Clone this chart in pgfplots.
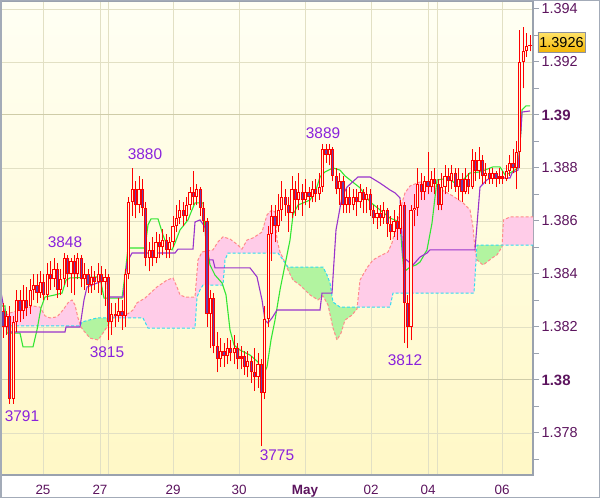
\documentclass[border=0pt]{standalone}
\usepackage{pgfplots}
\pgfplotsset{compat=1.18}
\usepgfplotslibrary{fillbetween}
\usepackage{pgfplotstable}
\usepackage{fontspec}
\setmainfont{Liberation Sans}

\definecolor{bgtop}{HTML}{FFFFF4}
\definecolor{bgbot}{HTML}{FFF8C6}
\definecolor{gridc}{HTML}{E2E0C4}
\definecolor{gridd}{HTML}{CFCCA8}
\definecolor{axisgray}{HTML}{9AA2AE}
\definecolor{framec}{HTML}{A3ABB8}
\definecolor{labelc}{HTML}{5C145E}
\definecolor{annotc}{HTML}{8A22DC}
\definecolor{pinkc}{HTML}{FFCCE8}
\definecolor{greenc}{HTML}{B2F4A0}
\definecolor{spanAc}{HTML}{FF8A8A}
\definecolor{spanBc}{HTML}{2EDCF2}
\definecolor{tenkanc}{HTML}{33E633}
\definecolor{kijunc}{HTML}{9933CC}
\definecolor{candlered}{HTML}{FF0000}
\definecolor{bearin}{HTML}{6A3DA8}
\definecolor{bullin}{HTML}{FFFBE0}
\definecolor{pricetop}{HTML}{FFE266}
\definecolor{pricebot}{HTML}{F2B400}
\definecolor{pricebord}{HTML}{8C90A0}

% candles: t = candle index, prices in pips (3826 = 1.3826)
\pgfplotstableread{
t o h l c
0 3826 3829 3816 3820
1 3820 3826 3817 3824
2 3824 3828 3791 3793
3 3793 3824 3791 3822
4 3822 3834 3818 3830
5 3830 3834 3822 3826
6 3826 3836 3823 3830
7 3830 3835 3824 3827
8 3828 3838 3825 3834
9 3834 3840 3830 3836
10 3836 3840 3829 3833
11 3833 3841 3831 3837
12 3837 3840 3830 3832
13 3832 3844 3830 3840
14 3840 3845 3834 3838
15 3838 3846 3835 3842
16 3842 3844 3831 3834
17 3834 3842 3832 3838
18 3838 3848 3836 3846
19 3846 3847 3835 3840
20 3840 3846 3833 3845
21 3845 3847 3832 3840
22 3840 3848 3838 3846
23 3846 3847 3835 3838
24 3838 3844 3834 3840
25 3840 3842 3833 3836
26 3836 3843 3833 3839
27 3839 3841 3834 3837
28 3837 3844 3833 3840
29 3840 3843 3832 3837
30 3837 3842 3828 3839
31 3839 3840 3815 3822
32 3822 3829 3817 3825
33 3825 3829 3820 3824
34 3824 3831 3822 3826
35 3826 3830 3819 3824
36 3824 3842 3820 3840
37 3840 3869 3838 3867
38 3867 3880 3862 3872
39 3872 3875 3861 3866
40 3866 3877 3863 3872
41 3872 3876 3862 3865
42 3865 3867 3843 3846
43 3846 3852 3841 3849
44 3849 3854 3843 3846
45 3846 3856 3844 3852
46 3852 3855 3846 3850
47 3850 3857 3847 3853
48 3853 3855 3846 3849
49 3849 3854 3846 3852
50 3852 3862 3850 3858
51 3858 3866 3856 3861
52 3861 3868 3859 3864
53 3864 3867 3858 3862
54 3862 3869 3860 3866
55 3866 3873 3864 3871
56 3871 3879 3866 3869
57 3869 3874 3866 3872
58 3872 3873 3862 3865
59 3865 3867 3856 3860
60 3860 3861 3820 3825
61 3825 3834 3812 3831
62 3831 3833 3810 3813
63 3813 3818 3803 3808
64 3808 3816 3805 3811
65 3811 3814 3805 3809
66 3809 3816 3806 3812
67 3812 3815 3807 3810
68 3810 3817 3806 3812
69 3812 3814 3804 3808
70 3808 3813 3804 3809
71 3809 3811 3802 3805
72 3805 3811 3801 3807
73 3807 3809 3799 3803
74 3803 3812 3796 3801
75 3801 3810 3797 3806
76 3806 3808 3775 3795
77 3795 3828 3793 3823
78 3823 3858 3820 3855
79 3855 3866 3845 3862
80 3862 3866 3852 3858
81 3858 3870 3856 3864
82 3864 3875 3860 3869
83 3869 3872 3862 3866
84 3866 3869 3856 3863
85 3863 3877 3861 3872
86 3872 3875 3862 3868
87 3868 3878 3864 3871
88 3871 3874 3862 3868
89 3868 3876 3866 3871
90 3871 3873 3865 3869
91 3869 3875 3867 3872
92 3872 3876 3867 3870
93 3870 3878 3868 3873
94 3873 3889 3871 3887
95 3887 3889 3882 3885
96 3885 3889 3881 3887
97 3887 3888 3875 3877
98 3877 3880 3870 3872
99 3872 3878 3866 3875
100 3875 3877 3863 3866
101 3866 3872 3863 3869
102 3869 3873 3863 3866
103 3866 3872 3864 3869
104 3869 3872 3862 3867
105 3867 3874 3865 3871
106 3871 3872 3863 3868
107 3868 3873 3863 3870
108 3870 3872 3862 3864
109 3864 3866 3859 3861
110 3861 3866 3857 3863
111 3863 3866 3858 3861
112 3861 3867 3859 3864
113 3864 3865 3854 3859
114 3859 3862 3853 3856
115 3856 3864 3854 3860
116 3860 3862 3853 3857
117 3857 3868 3855 3866
118 3866 3867 3814 3829
119 3829 3832 3812 3820
120 3820 3866 3815 3864
121 3864 3870 3858 3865
122 3865 3880 3862 3874
123 3874 3878 3868 3871
124 3871 3877 3868 3875
125 3875 3886 3870 3873
126 3873 3879 3871 3876
127 3876 3880 3870 3874
128 3874 3876 3864 3866
129 3866 3878 3864 3873
130 3873 3881 3870 3877
131 3877 3880 3871 3875
132 3875 3881 3872 3878
133 3878 3880 3871 3873
134 3873 3880 3868 3876
135 3876 3878 3867 3871
136 3871 3880 3870 3876
137 3876 3878 3870 3873
138 3873 3887 3872 3883
139 3883 3886 3875 3879
140 3879 3888 3876 3883
141 3883 3885 3874 3877
142 3877 3882 3874 3878
143 3878 3880 3874 3876
144 3876 3880 3874 3878
145 3878 3879 3873 3876
146 3876 3880 3874 3877
147 3877 3879 3874 3876
148 3876 3881 3875 3879
149 3879 3885 3877 3882
150 3882 3887 3878 3880
151 3880 3890 3872 3886
152 3886 3932 3880 3920
153 3920 3933 3910 3924
154 3924 3931 3922 3926
155 3926 3930 3924 3926
}\candles

\pgfplotstableread{
x y
1 3827.9
5 3827.9
7 3817.7
20 3817.7
23 3812.5
33 3812.5
37 3818.9
41 3827.2
45 3831.3
55 3832.1
62 3832.8
66 3837.7
70 3838.5
100 3838.9
104 3830.9
122 3830.9
125 3839.6
128 3849.8
145 3849.8
148 3858.5
151 3860.8
158 3860.8
163 3854.7
168 3849.8
172 3849.1
175 3851.7
180 3856.6
188 3860.4
192 3864.2
195 3866.8
203 3866.8
206 3852.8
210 3843.4
215 3839.6
222 3836.6
226 3832.1
230 3818.9
234 3813.2
240 3811.3
250 3809.4
258 3806.8
262 3801.1
267 3804.9
271 3815.1
275 3822.6
280 3834.0
285 3843.4
290 3852.8
293 3862.3
298 3866.0
310 3867.9
316 3871.7
320 3876.6
325 3878.5
333 3880.0
340 3879.2
345 3877.0
350 3875.5
360 3872.5
370 3867.2
380 3864.2
390 3861.1
400 3859.6
402 3849.1
404 3840.8
410 3842.6
416 3843.4
420 3844.5
427 3849.1
432 3859.2
437 3875.5
443 3875.8
450 3875.5
455 3874.3
463 3875.5
470 3878.1
480 3878.5
493 3880.4
500 3880.4
505 3877.4
510 3878.1
518 3880.0
521 3894.3
522 3901.9
526 3903.4
530 3903.4
}\tenkan

\pgfplotstableread{
x y
1 3833.2
5 3824.5
9 3818.1
65 3818.1
66 3820.0
80 3820.0
84 3830.2
87 3835.1
100 3837.0
107 3838.1
108 3831.3
123 3831.3
127 3844.5
132 3847.9
175 3847.9
178 3849.4
193 3849.4
195 3859.6
200 3860.4
205 3857.7
207 3845.3
213 3845.3
215 3842.3
250 3842.3
257 3838.9
262 3830.2
265 3822.6
268 3821.5
272 3823.4
277 3826.4
320 3826.4
322 3832.8
332 3832.8
336 3856.6
342 3869.1
347 3872.8
358 3876.6
370 3876.6
380 3874.3
390 3871.7
395 3870.6
400 3868.7
403 3846.4
410 3844.2
413 3843.4
420 3846.4
427 3847.9
430 3849.1
475 3849.1
480 3872.8
487 3875.5
490 3876.2
510 3876.2
512 3878.1
518 3879.2
521 3894.3
522 3901.1
530 3901.5
}\kijun

\pgfplotstableread{
x y
1 3820.4
80 3820.4
82 3821.9
97 3823.4
143 3823.4
148 3819.6
195 3819.6
197 3831.3
200 3834.0
203 3835.8
223 3835.8
225 3845.3
228 3847.9
278 3847.9
283 3845.3
288 3842.6
323 3842.6
327 3839.6
330 3836.6
333 3829.4
340 3827.5
390 3827.5
393 3832.8
474 3832.8
477 3850.9
533 3850.9
}\spanB

\pgfplotstableread{
x y
1 3823.4
10 3825.3
20 3826.4
27 3827.2
33 3827.9
40 3827.5
45 3824.2
50 3823.4
57 3823.8
63 3826.4
68 3829.1
72 3830.2
75 3828.3
78 3823.4
81 3820.0
83 3818.9
90 3815.8
98 3815.1
103 3817.7
107 3820.0
110 3821.9
113 3823.0
115 3824.5
128 3825.0
133 3826.4
137 3829.1
145 3830.9
157 3835.1
167 3837.7
173 3838.5
177 3835.1
180 3832.1
185 3831.3
195 3831.3
198 3845.3
202 3848.3
213 3849.1
218 3852.1
223 3854.0
230 3853.2
238 3850.9
242 3849.4
247 3852.8
253 3853.6
262 3855.8
267 3862.3
272 3864.2
275 3863.4
277 3852.8
280 3848.3
283 3846.0
288 3841.5
293 3837.7
300 3835.8
310 3832.1
318 3830.2
323 3831.7
328 3828.3
333 3819.6
337 3815.1
341 3817.7
345 3822.6
352 3824.5
357 3826.8
360 3837.7
367 3842.3
373 3845.3
380 3846.8
388 3848.3
392 3851.7
397 3859.2
402 3866.8
405 3870.6
410 3873.2
420 3874.7
440 3872.1
453 3869.4
463 3866.8
470 3864.2
473 3857.7
475 3849.1
477 3845.3
483 3843.4
487 3844.5
492 3846.0
497 3847.2
502 3850.2
503.5 3860.4
510 3861.5
533 3861.5
}\spanA

\pgfplotsset{
  candlepart/.style={only marks, mark=*, mark size=0pt, mark options={draw=none, fill=none},
    error bars/y dir=plus, error bars/y explicit, error bars/error mark=none},
}

\begin{document}
\begin{tikzpicture}
\begin{axis}[
  at={(0,0)}, anchor=south west,
  scale only axis, width=532bp, height=474bp,
  xmin=1, xmax=533, ymin=3764.15, ymax=3943.0,
  clip=false,
  axis background/.style={top color=bgtop, bottom color=bgbot},
  axis line style={draw=axisgray, line width=1.2bp},
  tick align=outside,
  xtick={43,100,173,239,305,371,428,502},
  xticklabels={25,27,29,30,\textbf{May},02,04,06},
  extra x ticks={108,437},
  extra x tick labels={},
  extra x tick style={tick style={draw=none}, major grid style={draw=gridc, line width=0.8bp}},
  xtick style={draw=none},
  ytick={3780,3820,3840,3860,3880,3920,3940},
  yticklabels={1.378,1.382,1.384,1.386,1.388,1.392,1.394},
  extra y ticks={3800,3900},
  extra y tick labels={\textbf{1.38},\textbf{1.39}},
  extra y tick style={major grid style={draw=gridd, line width=1bp}, tick style={draw=axisgray, line width=1bp},
     yticklabel style={font=\fontsize{15}{15}\selectfont}},
  minor ytick={3770,3790,3810,3830,3850,3870,3890,3910,3930},
  ytick pos=right, yticklabel pos=right,
  major tick length=6bp, minor tick length=6bp,
  ytick style={draw=axisgray, line width=1bp},
  grid=major,
  major grid style={draw=gridc, line width=0.8bp},
  yticklabel style={font=\fontsize{14.5}{14.5}\selectfont, text=labelc, anchor=west, xshift=-1bp},
  xticklabel style={font=\fontsize{13.5}{13.5}\selectfont, text=labelc, yshift=-1bp},
]
% cloud
\addplot[name path=A, spanAc, line width=1bp, dash pattern=on 3bp off 2bp] table[x=x,y=y] {\spanA};
\addplot[name path=B, spanBc, line width=1bp, dash pattern=on 3bp off 2bp] table[x=x,y=y] {\spanB};
\addplot[fill=pinkc, draw=none] fill between[of=A and B, split,
   every even segment/.style={fill=pinkc},
   every odd segment/.style={fill=greenc}];
% lines
\addplot[tenkanc, line width=1.1bp] table[x=x,y=y] {\tenkan};
\addplot[kijunc, line width=1.1bp] table[x=x,y=y] {\kijun};
% candles: wicks
\addplot[candlepart, error bars/error bar style={draw=candlered, line width=0.9bp}]
  table[x expr={3+3.4*\thisrow{t}}, y=l, y error expr={\thisrow{h}-\thisrow{l}}] {\candles};
% bodies
\addplot[candlepart, error bars/error bar style={draw=candlered, line width=3.2bp}]
  table[x expr={3+3.4*\thisrow{t}}, y expr={min(\thisrow{o},\thisrow{c})}, y error expr={max(abs(\thisrow{c}-\thisrow{o}),0.5)}] {\candles};
% hollow (rising) bodies
\addplot[candlepart, restrict expr to domain={\thisrow{c}-\thisrow{o}}{1:1000},
  error bars/error bar style={draw=bullin, line width=1.2bp}]
  table[x expr={3+3.4*\thisrow{t}}, y expr={\thisrow{o}+0.38}, y error expr={\thisrow{c}-\thisrow{o}-0.76}] {\candles};
% filled (falling) bodies
\addplot[candlepart, restrict expr to domain={\thisrow{o}-\thisrow{c}}{1:1000},
  error bars/error bar style={draw=bearin, line width=1.2bp}]
  table[x expr={3+3.4*\thisrow{t}}, y expr={\thisrow{c}+0.38}, y error expr={\thisrow{o}-\thisrow{c}-0.76}] {\candles};
% annotations
\begin{scope}[every node/.style={font=\fontsize{15.5}{15.5}\selectfont, text=annotc}]
\node at (axis cs:22,3786.4) {3791};
\node at (axis cs:65,3852.1) {3848};
\node at (axis cs:145,3885.3) {3880};
\node at (axis cs:107,3810.6) {3815};
\node at (axis cs:277,3771.7) {3775};
\node at (axis cs:323,3893.2) {3889};
\node at (axis cs:405,3807.5) {3812};
\end{scope}
\node[anchor=west, draw=pricebord, line width=0.8bp, top color=pricetop, bottom color=pricebot,
  inner xsep=1.5bp, inner ysep=0bp, minimum height=20bp, text=black,
  font=\fontsize{14.5}{14.5}\selectfont] at ([xshift=4.5bp]axis cs:533,3927.2) {1.3926};
\end{axis}
\pgfresetboundingbox
\path[use as bounding box] (-1bp,-23bp) rectangle (599bp,475bp);
\draw[framec, line width=1.5bp] (-0.25bp,-22.25bp) rectangle (598.25bp,474.25bp);
\end{tikzpicture}
\end{document}
